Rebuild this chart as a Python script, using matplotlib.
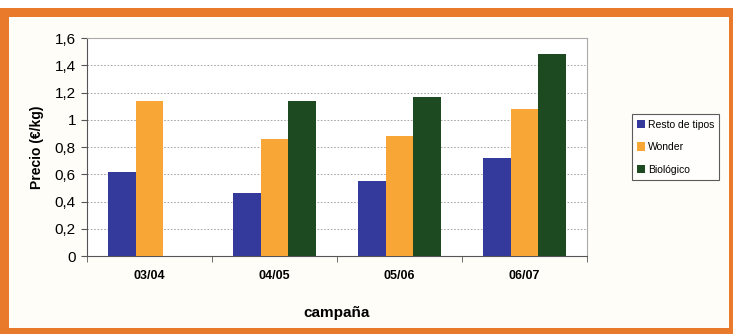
import numpy as np
import matplotlib
matplotlib.use("Agg")
import matplotlib.pyplot as plt
from matplotlib.patches import Rectangle

plt.rcParams['font.family'] = ['Liberation Sans', 'DejaVu Sans']

campaigns = ["03/04", "04/05", "05/06", "06/07"]
resto = [0.62, 0.46, 0.55, 0.72]
wonder = [1.14, 0.86, 0.88, 1.08]
biologico = [np.nan, 1.14, 1.17, 1.48]
series_names = ["Resto de tipos", "Wonder", "Biológico"]
yticks = [0, 0.2, 0.4, 0.6, 0.8, 1.0, 1.2, 1.4, 1.6]
ytick_labels = ["0", "0,2", "0,4", "0,6", "0,8", "1", "1,2", "1,4", "1,6"]

colors = ["#34399c", "#f8a636", "#1d4a20"]

fig = plt.figure(figsize=(7.33, 3.34), dpi=100)
fig.patch.set_facecolor("white")

# orange frame round the chart
fig.patches.append(Rectangle((0.0, 0.0), 1.0, 0.975, transform=fig.transFigure,
                             facecolor="#e97a2c", edgecolor="none", zorder=-2))
fig.patches.append(Rectangle((0.012, 0.018), 0.982, 0.93, transform=fig.transFigure,
                             facecolor="#fffdf8", edgecolor="none", zorder=-1))

ax = fig.add_axes([0.1187, 0.2335, 0.682, 0.6525])
ax.set_facecolor("white")

x = np.arange(len(campaigns))
w = 0.222
for k, (vals, name) in enumerate(zip([resto, wonder, biologico], series_names)):
    ax.bar(x + (k - 1) * w, vals, width=w, color=colors[k], label=name, zorder=3)

ax.set_xlim(-0.5, len(campaigns) - 0.5)
ax.set_ylim(0, 1.6)
ax.set_yticks(yticks)
ax.set_yticklabels(ytick_labels, fontsize=11)
ax.yaxis.grid(True, color="#999999", linestyle=(0, (2, 2)), linewidth=0.6, zorder=0)

ax.set_xticks(x)
ax.set_xticklabels(campaigns, fontsize=9, fontweight="bold")
ax.set_xticks(np.arange(len(campaigns) + 1) - 0.5, minor=True)
ax.tick_params(axis="x", which="major", length=0, pad=10)
ax.tick_params(axis="x", which="minor", length=4, color="#555555")
ax.tick_params(axis="y", length=4, color="#555555", pad=4)

for side in ["top", "right"]:
    ax.spines[side].set_color("#aaaaaa")
    ax.spines[side].set_linewidth(0.8)
ax.spines["left"].set_color("#555555")
ax.spines["bottom"].set_color("#555555")

ax.set_ylabel("Precio (€/kg)", fontsize=10, fontweight="bold", labelpad=8)
ax.set_xlabel("campaña", fontsize=11, fontweight="bold", labelpad=17)

leg = ax.legend(loc="center left", bbox_to_anchor=(1.08, 0.5), fontsize=7.5,
                frameon=True, fancybox=False, edgecolor="#333333",
                handlelength=0.7, handleheight=0.9, handletextpad=0.3,
                labelspacing=1.2, borderpad=0.5)
leg.get_frame().set_linewidth(0.8)

fig.savefig("out.png", dpi=100)
